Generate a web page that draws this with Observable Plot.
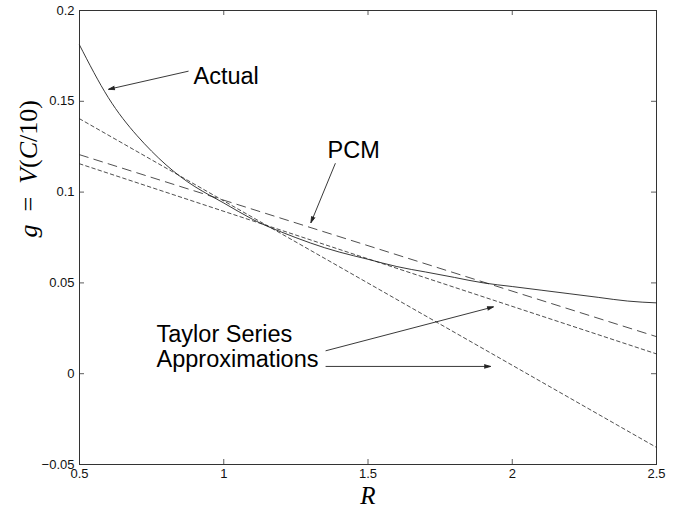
<!DOCTYPE html>
<html>
<head>
<meta charset="utf-8">
<script src="https://cdn.jsdelivr.net/npm/d3@7"></script>
<script src="https://cdn.jsdelivr.net/npm/@observablehq/plot@0.6"></script>
<style>
  html, body { margin: 0; padding: 0; background: #fff; }
  #chart svg { display: block; }
</style>
</head>
<body>
<div id="chart"></div>
<script>
// ---- data ----
const actualR = [0.5, 0.6, 0.7, 0.8, 0.9, 1.0, 1.1, 1.2, 1.3, 1.4, 1.5, 1.6, 1.7, 1.8, 1.9, 2.0, 2.1, 2.2, 2.3, 2.4, 2.5];
const actualG = [0.181, 0.152, 0.131, 0.115, 0.103, 0.094, 0.085, 0.078, 0.072, 0.067, 0.063, 0.059, 0.056, 0.053, 0.050, 0.048, 0.046, 0.044, 0.042, 0.040, 0.039];

const lineR = [0.5, 2.5];
const taylor1G = [0.1404, -0.0406];
const pcmG = [0.1206, 0.0204];
const taylor2G = [0.1156, 0.0109];

const xTicks = [0.5, 1, 1.5, 2, 2.5];
const xTickLabels = ["0.5", "1", "1.5", "2", "2.5"];
const yTicks = [-0.05, 0, 0.05, 0.1, 0.15, 0.2];
const yTickLabels = ["\u22120.05", "0", "0.05", "0.1", "0.15", "0.2"];

const noteText = ["Actual", "PCM", "Taylor Series", "Approximations"];
const noteR = [0.895, 1.36, 0.767, 0.767];
const noteG = [0.1595, 0.1187, 0.0173, 0.0035];

const arrowR1 = [0.878, 1.387, 1.353, 1.353];
const arrowG1 = [0.1666, 0.1159, 0.0126, 0.0040];
const arrowR2 = [0.6005, 1.302, 1.935, 1.925];
const arrowG2 = [0.1566, 0.0831, 0.0368, 0.0040];

const xLabel = "R";
const yLabel = "g = V(C/10)";

// ---- build tables ----
const actual = actualR.map((r, i) => ({r, g: actualG[i]}));
const mk = (arr) => lineR.map((r, i) => ({r, g: arr[i]}));
const notes = noteText.map((t, i) => ({t, r: noteR[i], g: noteG[i]}));
const arrows = arrowR1.map((r, i) => ({r1: r, g1: arrowG1[i], r2: arrowR2[i], g2: arrowG2[i]}));
const xFmt = new Map(xTicks.map((t, i) => [t, xTickLabels[i]]));
const yFmt = new Map(yTicks.map((t, i) => [t, yTickLabels[i]]));

const W = 681, H = 510;
const mL = 79, mR = 25, mT = 10, mB = 46;
const innerW = W - mL - mR, innerH = H - mT - mB;
const ink = "#222";
const sans = "'Liberation Sans', Arial, Helvetica, sans-serif";
const serif = "'Liberation Serif', 'Times New Roman', serif";

const chart = Plot.plot({
  width: W, height: H,
  marginLeft: mL, marginRight: mR, marginTop: mT, marginBottom: mB,
  style: {fontFamily: sans, fontSize: "13px", color: "#111", background: "#fff"},
  x: {domain: [0.5, 2.5]},
  y: {domain: [-0.05, 0.2]},
  marks: [
    Plot.axisX({ticks: xTicks, tickFormat: d => xFmt.get(d), tickSize: 0, tickPadding: 4, label: null, fontSize: 13}),
    Plot.axisY({ticks: yTicks, tickFormat: d => yFmt.get(d), tickSize: 0, tickPadding: 5, label: null, fontSize: 13}),
    // inward ticks on all four sides
    Plot.tickX(xTicks, {x: d => d, insetTop: innerH - 5, stroke: "#333", strokeWidth: 0.8}),
    Plot.tickX(xTicks, {x: d => d, insetBottom: innerH - 5, stroke: "#333", strokeWidth: 0.8}),
    Plot.tickY(yTicks, {y: d => d, insetRight: innerW - 5, stroke: "#333", strokeWidth: 0.8}),
    Plot.tickY(yTicks, {y: d => d, insetLeft: innerW - 5, stroke: "#333", strokeWidth: 0.8}),
    Plot.frame({stroke: "#333", strokeWidth: 1}),
    // series
    Plot.line(mk(taylor1G), {x: "r", y: "g", stroke: ink, strokeWidth: 0.8, strokeDasharray: "3.5,3"}),
    Plot.line(mk(taylor2G), {x: "r", y: "g", stroke: ink, strokeWidth: 0.8, strokeDasharray: "3.5,3"}),
    Plot.line(mk(pcmG), {x: "r", y: "g", stroke: ink, strokeWidth: 0.8, strokeDasharray: "9,6"}),
    Plot.line(actual, {x: "r", y: "g", stroke: ink, strokeWidth: 0.9, curve: "natural"}),
    // annotations
    Plot.arrow(arrows, {x1: "r1", y1: "g1", x2: "r2", y2: "g2", stroke: ink, fill: ink, strokeWidth: 0.9, headLength: 11, headAngle: 32, strokeLinecap: "butt", strokeLinejoin: "miter"}),
    Plot.text(notes, {x: "r", y: "g", text: "t", textAnchor: "start", lineAnchor: "bottom", fontSize: 23.5, fill: "#000", fontFamily: sans}),
    // axis titles
    Plot.text([xLabel], {text: d => d, frameAnchor: "bottom", lineAnchor: "bottom", dy: 39, fontSize: 25, fontStyle: "italic", fontFamily: serif, fill: "#000"}),
    Plot.text([yLabel], {text: d => d, frameAnchor: "left", dx: -51, rotate: -90, fontSize: 26, fontFamily: serif, fill: "#000"})
  ]
});
document.getElementById("chart").appendChild(chart);

// LaTeX-like styling of the y title: italic variables, upright symbols, wider spacing round "="
d3.select(chart).selectAll("text").filter(function() { return this.textContent === yLabel; }).each(function() {
  const t = d3.select(this);
  t.text(null);
  const parts = [["g", true], ["\u2002=\u2002", false], ["V", true], ["(", false], ["C", true], ["/10)", false]];
  for (const [s, it] of parts) t.append("tspan").attr("font-style", it ? "italic" : "normal").text(s);
});
</script>
</body>
</html>
